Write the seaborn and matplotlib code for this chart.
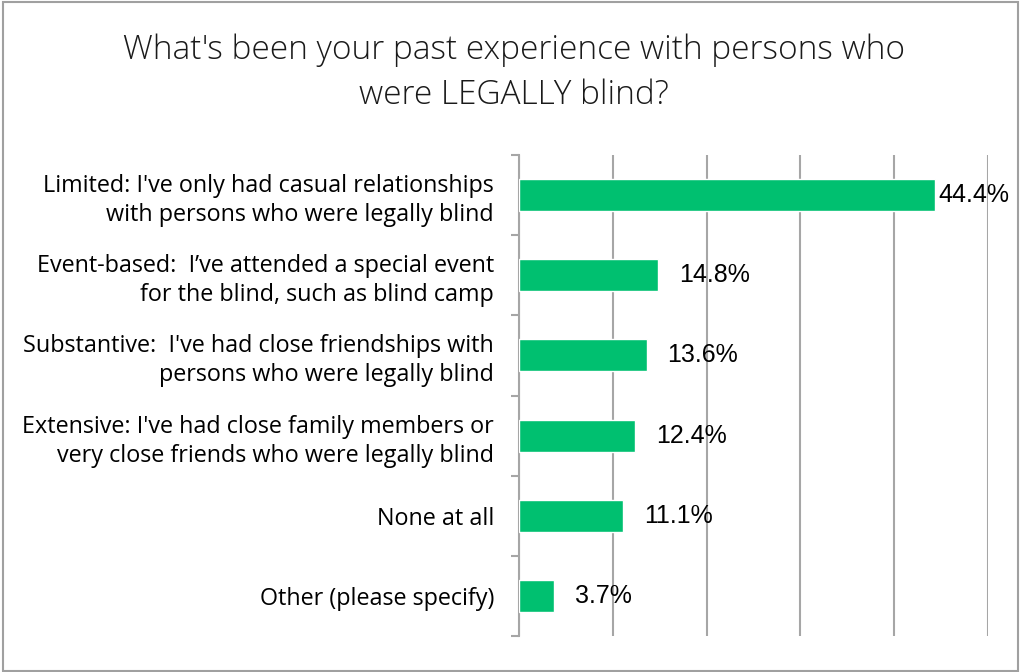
import matplotlib
matplotlib.use("Agg")
import matplotlib.pyplot as plt
import seaborn as sns
import pandas as pd
from matplotlib.patches import Rectangle

# Survey responses, top to bottom
categories = [
    "Limited: I've only had casual relationships\nwith persons who were legally blind",
    "Event-based:  I\u2019ve attended a special event\nfor the blind, such as blind camp",
    "Substantive:  I've had close friendships with\npersons who were legally blind",
    "Extensive: I've had close family members or\nvery close friends who were legally blind",
    "None at all",
    "Other (please specify)",
]
percent = [44.4, 14.8, 13.6, 12.4, 11.1, 3.7]
grid_ticks = [0, 10, 20, 30, 40, 50]

title_lines = ["What's been your past experience with persons who",
               "were LEGALLY blind?"]

df = pd.DataFrame({"category": categories, "percent": percent})

sns.set_theme(style="white")
plt.rcParams["font.family"] = ["Open Sans", "DejaVu Sans"]

W, H = 1021, 672
fig = plt.figure(figsize=(W / 100, H / 100), dpi=100)
ax = fig.add_axes([519 / W, 1 - 636 / H, (988 - 519) / W, (636 - 155) / H])

bar_color = "#00C070"
grid_color = "#A6A6A6"

sns.barplot(data=df, x="percent", y="category", order=categories,
            color=bar_color, width=0.4, saturation=1, ax=ax, zorder=3)

ax.set_xlim(grid_ticks[0], grid_ticks[-1])
ax.set_ylim(len(categories) - 0.5, -0.5)
ax.set_xticks(grid_ticks)
ax.set_xticklabels([])
ax.tick_params(axis="x", length=0)
ax.xaxis.grid(True, color=grid_color, linewidth=1.5, zorder=0)
ax.yaxis.grid(False)
ax.set_xlabel("")
ax.set_ylabel("")

for side in ["top", "right", "bottom"]:
    ax.spines[side].set_visible(False)
ax.spines["left"].set_color(grid_color)
ax.spines["left"].set_linewidth(1.5)

# category boundary ticks on the left axis
ax.set_yticks([i - 0.5 for i in range(len(categories) + 1)], minor=True)
ax.tick_params(axis="y", which="minor", length=5.5, width=1.5,
               color=grid_color, direction="out", left=True)
ax.tick_params(axis="y", which="major", length=0, pad=18)
for lbl in ax.get_yticklabels():
    lbl.set_fontsize(16.8)
    lbl.set_color("#000000")
    lbl.set_horizontalalignment("right")
    lbl.set_multialignment("right")
    lbl.set_linespacing(1.28)

# value labels
fig.canvas.draw()
renderer = fig.canvas.get_renderer()
right_limit = 1009
for i, v in enumerate(percent):
    t = ax.annotate(f"{v:.1f}%", xy=(v, i), xytext=(15, 0),
                    textcoords="offset points", va="center", ha="left",
                    fontsize=18, family="Liberation Sans", color="#000000",
                    zorder=5)
    bb = t.get_window_extent(renderer)
    if bb.x1 > right_limit:
        shift = (bb.x1 - right_limit) * 72 / fig.dpi
        t.set_position((15 - shift, 0))

# title
for line, y in zip(title_lines, [50, 95]):
    fig.text(514 / W, 1 - y / H, line, ha="center", va="center",
             fontsize=24, fontweight="light", color="#1A1A1A")

# chart frame
fig.patches.append(Rectangle((3 / W, 1 / H), (1018 - 3) / W, (670 - 1) / H,
                             transform=fig.transFigure, fill=False,
                             edgecolor="#A0A0A0", linewidth=1.5))

fig.savefig("out.png", dpi=100)
